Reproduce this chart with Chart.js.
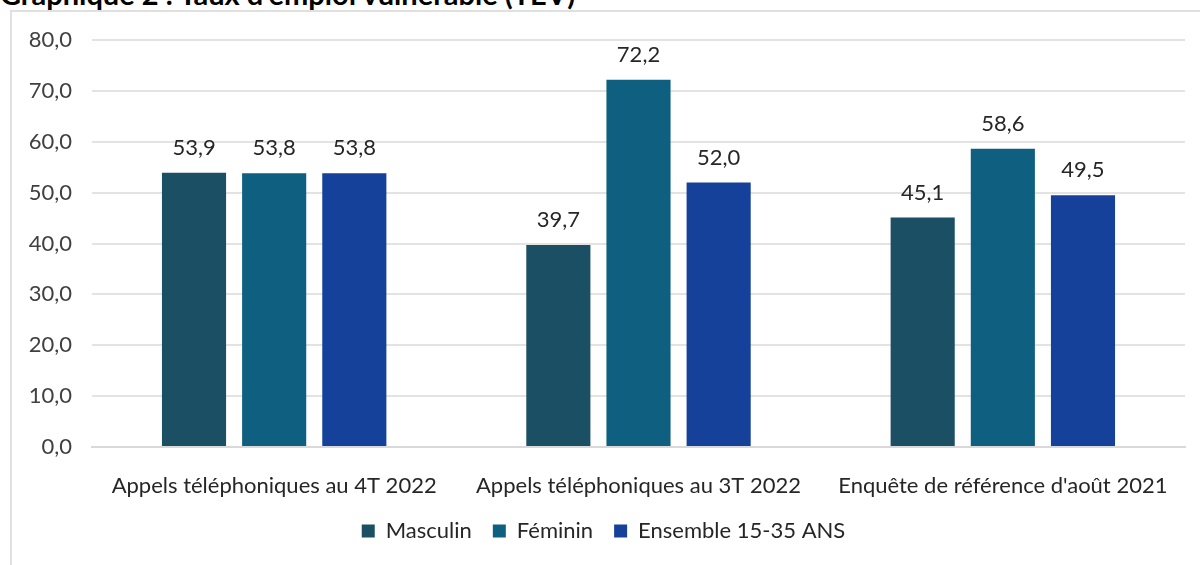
<!DOCTYPE html>
<html>
<head>
<meta charset="utf-8">
<script src="https://cdn.jsdelivr.net/npm/chart.js@4"></script>
<style>
  body { margin: 0; background: #fff; overflow: hidden; }
  #title { position: absolute; left: 0; top: -21px; font: bold 29px/29px Lato, sans-serif; color: #000; white-space: nowrap; }
  #frame { position: absolute; left: 10px; top: 10px; width: 1190px; height: 555px;
           border-left: 2px solid #e0e0e0; border-top: 2px solid #e0e0e0; box-sizing: border-box; }
  #wrap { position: absolute; left: 10px; top: 10px; width: 1190px; height: 555px; }
</style>
</head>
<body>
<div id="title">Graphique 2 : Taux d'emploi vulnérable (TEV)</div>
<div id="frame"></div>
<div id="wrap"><canvas id="chart" width="1190" height="555"></canvas></div>
<script>
// Taux d'emploi vulnérable par sexe et source
const categories = ["Appels téléphoniques au 4T 2022", "Appels téléphoniques au 3T 2022", "Enquête de référence d'août 2021"];
const masculin = [53.9, 39.7, 45.1];
const feminin = [53.8, 72.2, 58.6];
const ensemble = [53.8, 52.0, 49.5];
const seriesNames = ["Masculin", "Féminin", "Ensemble 15-35 ANS"];
const seriesColors = ["#1b4f63", "#0e5f80", "#15419a"];

const fmt = v => v.toFixed(1).replace(".", ",");
const FONT = "Lato, 'Open Sans', sans-serif";

// draws the value above every bar
const barValues = {
    id: "barValues",
    afterDatasetsDraw(chart) {
        const ctx = chart.ctx;
        ctx.save();
        ctx.font = "22px " + FONT;
        ctx.fillStyle = "#262626";
        ctx.textAlign = "center";
        ctx.textBaseline = "middle";
        chart.data.datasets.forEach((ds, i) => {
            chart.getDatasetMeta(i).data.forEach((bar, j) => {
                ctx.fillText(fmt(ds.data[j]), bar.x, bar.y - 25);
            });
        });
        ctx.restore();
    }
};

new Chart(document.getElementById("chart"), {
    type: "bar",
    data: {
        labels: categories,
        datasets: [masculin, feminin, ensemble].map((d, i) => ({
            label: seriesNames[i],
            data: d,
            backgroundColor: seriesColors[i],
            barPercentage: 0.8,
            categoryPercentage: 0.66
        }))
    },
    options: {
        responsive: false,
        animation: false,
        layout: { padding: { top: 30, right: 15, bottom: 13, left: 12 } },
        plugins: {
            legend: {
                position: "bottom",
                labels: {
                    boxWidth: 13, boxHeight: 13, padding: 21,
                    color: "#262626",
                    font: { family: FONT, size: 22 }
                }
            },
            tooltip: { enabled: false }
        },
        scales: {
            x: {
                grid: { display: false },
                border: { color: "#d9d9d9", width: 2 },
                ticks: { color: "#262626", padding: 18, font: { family: FONT, size: 22 } },
                afterFit: s => { s.height = 52; }
            },
            y: {
                min: 0, max: 80,
                ticks: { stepSize: 10, color: "#404040", padding: 20,
                         font: { family: FONT, size: 22 }, callback: v => fmt(v) },
                grid: { color: "#e3e3e3", lineWidth: 2, drawTicks: false },
                border: { display: false },
                afterFit: s => { s.width = 70; s.paddingTop = 30; s.paddingBottom = 0; }
            }
        }
    },
    plugins: [barValues]
});
</script>
</body>
</html>
